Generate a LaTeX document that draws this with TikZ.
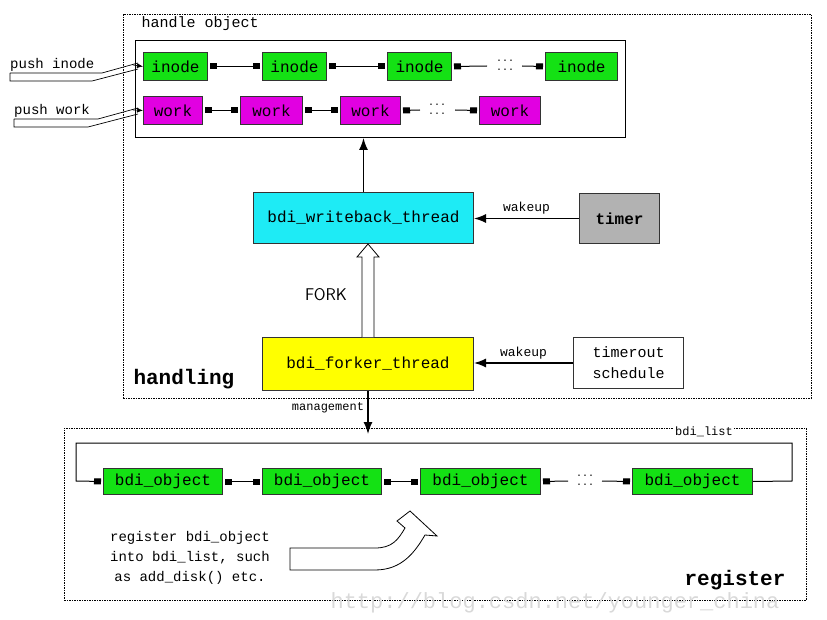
\documentclass[tikz,border=0pt]{standalone}
\usepackage{fontspec}
\setmainfont{Liberation Mono}
\usetikzlibrary{arrows.meta}
\definecolor{cg}{RGB}{20,225,20}
\definecolor{cm}{RGB}{225,0,225}
\definecolor{cc}{RGB}{30,235,245}
\definecolor{cy}{RGB}{255,255,0}
\begin{document}
\begin{tikzpicture}[x=1pt,y=-1pt,
  box/.style={draw=black!80,line width=1pt,inner sep=0pt,anchor=north west,font=\fontsize{16}{18}\selectfont},
  gr/.style={box,fill=cg},
  mg/.style={box,fill=cm},
  lnk/.style={{Square[length=7pt,width=6pt]}-{Square[length=7pt,width=6pt]},line width=1pt,shorten <=2pt,shorten >=2pt},
  arr/.style={-{Latex[length=12pt,width=9pt]},line width=1.4pt},
  dt/.style={font=\fontsize{10}{10}\selectfont,inner sep=0pt},
  dotbox/.style={draw,line width=0.7pt,dash pattern=on 1.5pt off 1pt}]
\useasboundingbox (0,0) rectangle (827,620);
\node[dotbox,minimum width=688pt,minimum height=384pt,anchor=north west] (handling) at (123,14) {};
\node[anchor=west,font=\fontsize{15}{16}\selectfont] (ho) at (138,24) {handle object};
\node[draw,line width=1pt,minimum width=490pt,minimum height=97pt,anchor=north west] (inner) at (135,40) {};
% inodes
\node[gr,minimum width=64pt,minimum height=28pt] (i1) at (143,52) {inode};
\node[gr,minimum width=64pt,minimum height=28pt] (i2) at (262,52) {inode};
\node[gr,minimum width=64pt,minimum height=28pt] (i3) at (387,52) {inode};
\node[gr,minimum width=72pt,minimum height=28pt] (i4) at (545,52) {inode};
\node[dt] (id1) at (505,61) {...}; \node[dt] (id2) at (505,70) {...};
\draw[lnk] (i1) -- (i2); \draw[lnk] (i2) -- (i3);
\draw[line width=1pt,{Square[length=7pt,width=6pt]}-,shorten <=2pt] (i3.east) -- (487,66);
\draw[line width=1pt,-{Square[length=7pt,width=6pt]},shorten >=2pt] (522,66) -- (i4.west);
% works
\node[mg,minimum width=59pt,minimum height=28pt] (w1) at (143,96) {work};
\node[mg,minimum width=62pt,minimum height=28pt] (w2) at (240,96) {work};
\node[mg,minimum width=60pt,minimum height=28pt] (w3) at (340,96) {work};
\node[mg,minimum width=61pt,minimum height=28pt] (w4) at (479,96) {work};
\node[dt] (wd1) at (437,105) {...}; \node[dt] (wd2) at (437,114) {...};
\draw[lnk] (w1) -- (w2); \draw[lnk] (w2) -- (w3);
\draw[line width=1pt,{Square[length=7pt,width=6pt]}-,shorten <=2pt] (w3.east) -- (420,110);
\draw[line width=1pt,-{Square[length=7pt,width=6pt]},shorten >=2pt] (455,110) -- (w4.west);
% push arrows
\node[anchor=south west,font=\fontsize{14}{15}\selectfont,inner sep=1pt] (pi) at (9,73) {push inode};
\node[anchor=south west,font=\fontsize{14}{15}\selectfont,inner sep=1pt] (pw) at (13,119) {push work};
\draw[line width=0.7pt] (10,73) -- (102,73) -- (138,63) (10,73) -- (10,81) -- (92,81) -- (138,69);
\draw[-{Latex[length=6pt,width=5pt]},line width=0.6pt] (133,65) -- (i1.west);
\draw[line width=0.7pt] (14,119) -- (98,119) -- (138,108) (14,119) -- (14,127) -- (88,127) -- (138,114);
\draw[-{Latex[length=6pt,width=5pt]},line width=0.6pt] (133,110) -- (w1.west);
% threads
\node[box,fill=cc,minimum width=220pt,minimum height=51pt] (wb) at (253,192) {bdi\_writeback\_thread};
\node[box,fill=black!30,minimum width=80pt,minimum height=50pt,font=\bfseries\fontsize{16}{18}\selectfont] (timer) at (579,193) {timer};
\draw[arr] (wb.north) -- (wb.north |- inner.south);
\draw[arr] (timer.west) -- node[above,font=\fontsize{13}{14}\selectfont] {wakeup} (wb.east |- timer.west);
\node[box,fill=cy,minimum width=211pt,minimum height=53pt] (fk) at (262,337) {bdi\_forker\_thread};
\node[box,fill=white,minimum width=110pt,minimum height=51pt,align=center,font=\fontsize{15}{21}\selectfont] (ts) at (573,337) {timerout\\schedule};
\draw[arr] (ts.west) -- node[above,font=\fontsize{13}{14}\selectfont] {wakeup} (fk.east |- ts.west);
\draw[line width=0.8pt,fill=white] (362,337) -- (362,257) -- (357,257) -- (368,244) -- (379,257) -- (374,257) -- (374,337);
\node[font=\sffamily\fontsize{17}{18}\selectfont] (fork) at (326,295) {FORK};
\node[font=\rmfamily\bfseries\fontsize{21}{22}\selectfont,anchor=west] (hl) at (130,379) {handling};
% register area
\node[dotbox,minimum width=742pt,minimum height=172pt,anchor=north west] (reg) at (64,428) {};
\draw[arr] (fk.south) -- node[left,pos=0.4,font=\fontsize{12}{12}\selectfont] {management} (368,434);
\node[gr,minimum width=119pt,minimum height=26pt] (b1) at (103,468) {bdi\_object};
\node[gr,minimum width=119pt,minimum height=26pt] (b2) at (262,468) {bdi\_object};
\node[gr,minimum width=120pt,minimum height=26pt] (b3) at (420,468) {bdi\_object};
\node[gr,minimum width=120pt,minimum height=26pt] (b4) at (632,468) {bdi\_object};
\node[dt] (bd1) at (585,476) {...}; \node[dt] (bd2) at (585,485) {...};
\draw[lnk] (b1) -- (b2); \draw[lnk] (b2) -- (b3);
\draw[line width=1pt,{Square[length=7pt,width=6pt]}-,shorten <=2pt] (b3.east) -- (568,481);
\draw[line width=1pt,-{Square[length=7pt,width=6pt]},shorten >=2pt] (602,481) -- (b4.west);
\draw[line width=1pt,-{Square[length=7pt,width=6pt]},shorten >=2pt] (b4.east) -- (792,481) -- (792,443) -- (76,443) -- (76,481) -- (b1.west);
\node[font=\fontsize{12}{12}\selectfont,fill=white,inner sep=1pt] (bl) at (704,432) {bdi\_list};
\node[align=center,font=\fontsize{14}{20}\selectfont] (rt) at (190,558) {register bdi\_object\\into bdi\_list, such\\as add\_disk() etc.};
\draw[line width=0.8pt,fill=white] (290,548) -- (375,548) .. controls (392,548) and (398,540) .. (405,528) -- (397,521) -- (410,511) -- (437,536) -- (425,535) .. controls (415,552) and (402,570) .. (375,570) -- (290,570) -- cycle;
\node[font=\rmfamily\fontsize{22}{22}\selectfont,text=black!15] (wm) at (555,603) {http://blog.csdn.net/younger\_china};
\node[font=\rmfamily\bfseries\fontsize{21}{22}\selectfont] (rg) at (735,580) {register};
\end{tikzpicture}
\end{document}
